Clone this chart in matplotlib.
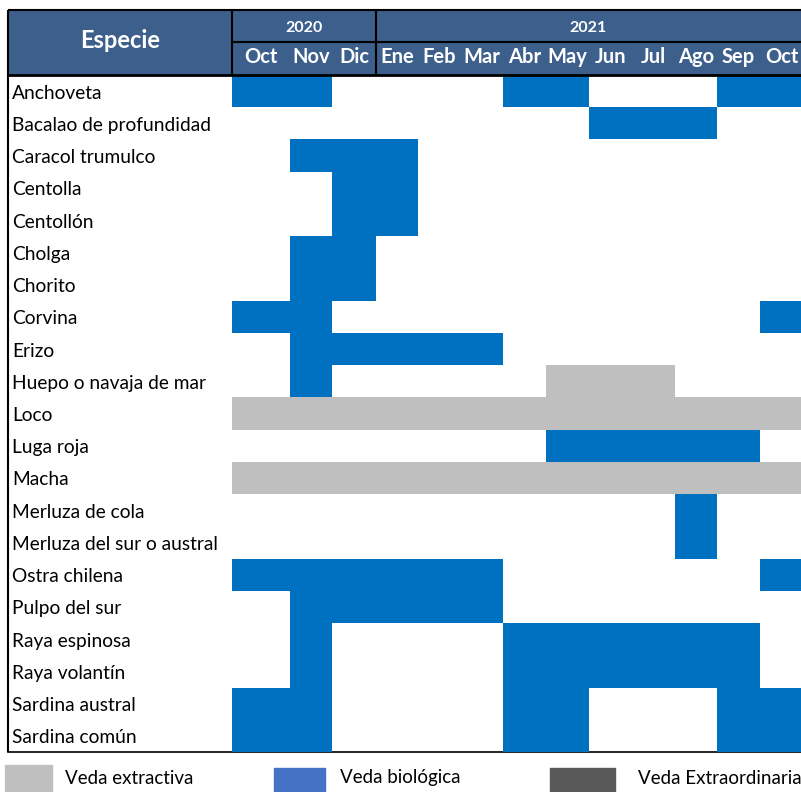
import numpy as np
import matplotlib
matplotlib.use("Agg")
import matplotlib.pyplot as plt
from matplotlib.colors import ListedColormap
from matplotlib.patches import Rectangle

plt.rcParams['font.family'] = ['Lato', 'DejaVu Sans']

# data
years = ["2020", "2021"]
year_span = [3, 10]          # months per year in the header
months = ["Oct", "Nov", "Dic", "Ene", "Feb", "Mar", "Abr", "May",
          "Jun", "Jul", "Ago", "Sep", "Oct"]
species = ["Anchoveta", "Bacalao de profundidad", "Caracol trumulco",
           "Centolla", "Centollón", "Cholga", "Chorito", "Corvina",
           "Erizo", "Huepo o navaja de mar", "Loco", "Luga roja", "Macha",
           "Merluza de cola", "Merluza del sur o austral", "Ostra chilena",
           "Pulpo del sur", "Raya espinosa", "Raya volantín",
           "Sardina austral", "Sardina común"]
# . = sin veda, E = veda extractiva, B = veda biológica, X = extraordinaria
status = ["BB....BB...BB",
          "........BBB..",
          ".BBB.........",
          "..BB.........",
          "..BB.........",
          ".BB..........",
          ".BB..........",
          "BB..........B",
          ".BBBBB.......",
          ".B.....EEE...",
          "EEEEEEEEEEEEE",
          ".......BBBBB.",
          "EEEEEEEEEEEEE",
          "..........B..",
          "..........B..",
          "BBBBBB......B",
          ".BBBBB.......",
          ".B....BBBBBB.",
          ".B....BBBBBB.",
          "BB....BB...BB",
          "BB....BB...BB"]
legend_labels = ["Veda extractiva", "Veda biológica", "Veda Extraordinaria"]

codes = {".": 0, "E": 1, "B": 2, "X": 3}
grid = np.array([[codes[c] for c in s] for s in status], dtype=float)
grid = np.ma.masked_equal(grid, 0)

c_ext = "#BFBFBF"
c_bio = "#0070C0"
c_ext2 = "#595959"
c_head = "#3C5F8C"

W, H = 801, 792
fig = plt.figure(figsize=(W / 100, H / 100), dpi=100)
ax = fig.add_axes([0, 0, 1, 1])
ax.set_xlim(0, W)
ax.set_ylim(H, 0)
ax.axis("off")

left, name_w = 8, 232
x_edges = np.array([232, 290, 332, 376, 418, 460, 503, 546, 589, 632,
                    675, 717, 760, 803])
top_rows = 75
row_h = (752 - top_rows) / len(species)
y_edges = top_rows + row_h * np.arange(len(species) + 1)

ax.pcolormesh(x_edges, y_edges, grid,
              cmap=ListedColormap([c_ext, c_bio, c_ext2]),
              vmin=0.5, vmax=3.5, zorder=2)

# header block
ax.add_patch(Rectangle((left, 10), W - left, 64, color=c_head, zorder=1))
ax.text((left + name_w) / 2, 41, "Especie", color="white", fontsize=17,
        fontweight="bold", ha="center", va="center", zorder=4)
start = 0
for yr, n in zip(years, year_span):
    xc = (x_edges[start] + x_edges[start + n]) / 2
    if start + n == len(months):
        xc = (x_edges[start] + W) / 2
    ax.text(xc, 28, yr, color="white", fontsize=11.5, fontweight="bold",
            ha="center", va="center", zorder=4)
    start += n
for i, m in enumerate(months):
    ax.text((x_edges[i] + x_edges[i + 1]) / 2, 57, m, color="white",
            fontsize=14.5, fontweight="bold", ha="center", va="center",
            zorder=4)

# borders
lk = dict(color="black", zorder=5, solid_capstyle="butt")
ax.plot([left, W], [10, 10], lw=1.5, **lk)
ax.plot([left, left], [10, 752], lw=1.5, **lk)
ax.plot([name_w, name_w], [10, 74], lw=1.5, **lk)
ax.plot([x_edges[3], x_edges[3]], [10, 74], lw=1.5, **lk)
ax.plot([name_w, W], [42, 42], lw=1.5, **lk)
ax.plot([left, W], [74.5, 74.5], lw=2, **lk)
ax.plot([left, W], [752, 752], lw=1.2, color="black", zorder=1)

for i, sp in enumerate(species):
    ax.text(12, (y_edges[i] + y_edges[i + 1]) / 2 + 2, sp, fontsize=13.8,
            ha="left", va="center", color="black", zorder=4)

# legend
leg = [((5, 765), 47, 27, c_ext, 65),
       ((274, 768), 51, 24, "#4472C4", 340),
       ((550, 768), 65, 24, c_ext2, 638)]
for (xy, w, h, c, tx), lab in zip(leg, legend_labels):
    ax.add_patch(Rectangle(xy, w, h, color=c, zorder=2))
    ax.text(tx, 778, lab, fontsize=13.5, ha="left", va="center",
            color="black")

fig.savefig("out.png", dpi=100)
